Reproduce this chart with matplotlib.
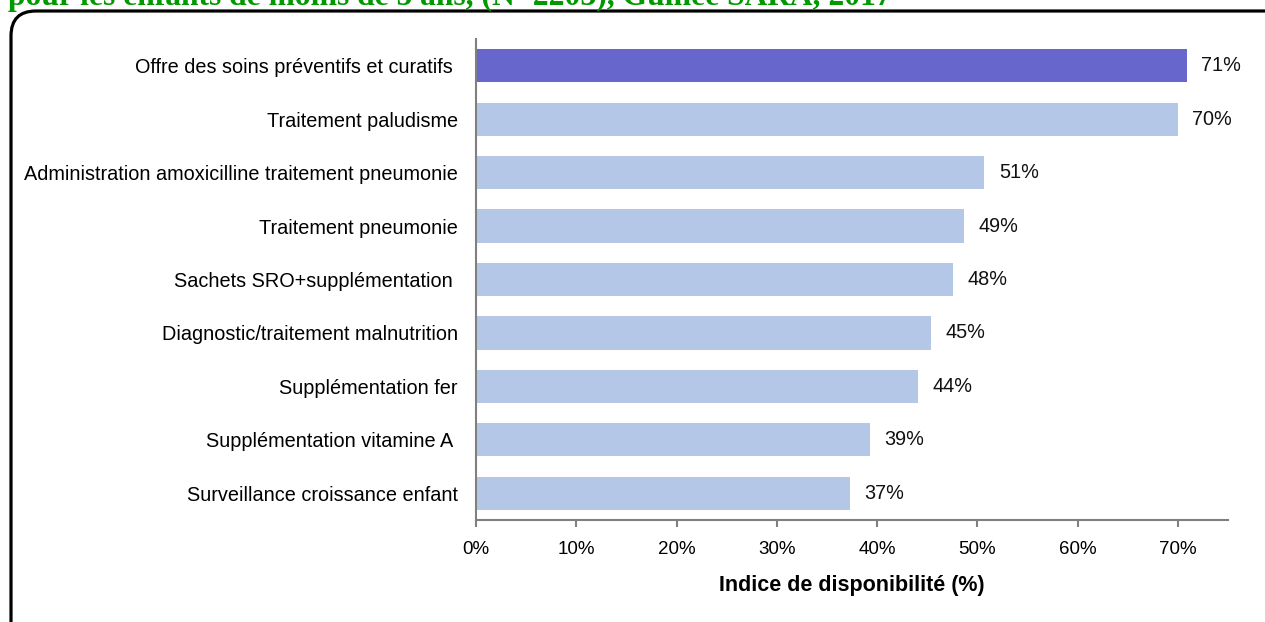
import matplotlib
matplotlib.use("Agg")
import matplotlib.pyplot as plt
from matplotlib.patches import FancyBboxPatch
from matplotlib.transforms import IdentityTransform

categories = [
    "Offre des soins préventifs et curatifs ",
    "Traitement paludisme",
    "Administration amoxicilline traitement pneumonie",
    "Traitement pneumonie",
    "Sachets SRO+supplémentation ",
    "Diagnostic/traitement malnutrition",
    "Supplémentation fer",
    "Supplémentation vitamine A ",
    "Surveillance croissance enfant",
]
values = [70.9, 70.0, 50.7, 48.7, 47.6, 45.4, 44.1, 39.3, 37.3]
xticks = [0, 10, 20, 30, 40, 50, 60, 70]
xtick_labels = ["0%", "10%", "20%", "30%", "40%", "50%", "60%", "70%"]
title = "pour les enfants de moins de 5 ans, (N=2203), Guinée SARA, 2017"
xlabel = "Indice de disponibilité (%)"

plt.rcParams["font.family"] = ["Liberation Sans", "DejaVu Sans"]

W, H = 1265, 622
fig = plt.figure(figsize=(W / 100, H / 100), dpi=100)
ax = fig.add_axes([476 / W, 1 - 520 / H, (1228 - 476) / W, (520 - 39) / H])

colors = ["#6666CC"] + ["#B4C7E7"] * (len(values) - 1)
ypos = list(range(len(values)))
ax.barh(ypos, values, height=0.62, color=colors, zorder=2)
ax.set_ylim(len(values) - 0.5, -0.5)
ax.set_xlim(0, 75)

for y, v in zip(ypos, values):
    ax.text(v + 1.45, y, f"{v:.0f}%", va="center", ha="left", fontsize=14.3, color="#111111")

ax.set_yticks(ypos)
ax.set_yticklabels(categories, fontsize=14.3)
ax.tick_params(axis="y", length=0, pad=13)
ax.set_xticks(xticks)
ax.set_xticklabels(xtick_labels, fontsize=13.5)
ax.tick_params(axis="x", length=5, width=1.5, color="#808080", pad=10)
for s in ["top", "right"]:
    ax.spines[s].set_visible(False)
for s in ["left", "bottom"]:
    ax.spines[s].set_color("#808080")
    ax.spines[s].set_linewidth(1.5)
ax.set_xlabel(xlabel, fontsize=15.5, fontweight="bold", labelpad=12)

# rounded frame around the chart area
frame = FancyBboxPatch((11 + 25, 0 - 40 + 25), 1290 - 11 - 50, (H - 11) + 40 - 50,
                       boxstyle="round,pad=25", transform=IdentityTransform(),
                       fill=False, edgecolor="black", linewidth=2.3)
fig.add_artist(frame)

fig.text(8 / W, 1 - 5 / H, title, fontsize=22.7, fontweight="bold", color="#009900",
         family=["Liberation Serif", "DejaVu Serif"], ha="left", va="baseline")

fig.savefig("out.png", dpi=100)
